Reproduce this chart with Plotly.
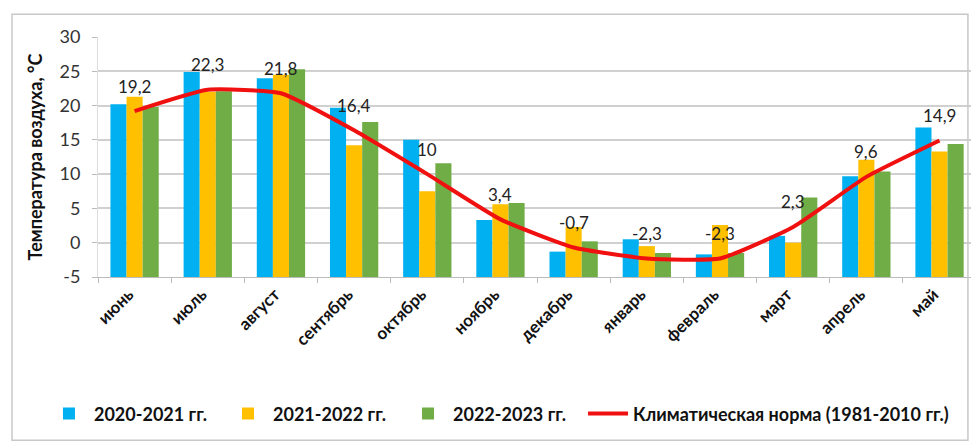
import plotly.graph_objects as go

months = ["июнь", "июль", "август", "сентябрь", "октябрь", "ноябрь", "декабрь",
          "январь", "февраль", "март", "апрель", "май"]
s2020 = [20.2, 24.9, 24.0, 19.7, 15.0, 3.3, -1.3, 0.5, -1.7, 1.0, 9.7, 16.8]
s2021 = [21.3, 22.0, 24.5, 14.2, 7.5, 5.6, 2.3, -0.5, 2.6, 0.0, 12.1, 13.3]
s2022 = [19.8, 22.1, 25.3, 17.6, 11.6, 5.8, 0.2, -1.5, -1.5, 6.6, 10.4, 14.4]
norm = [19.2, 22.3, 21.8, 16.4, 10, 3.4, -0.7, -2.3, -2.3, 2.3, 9.6, 14.9]
y_ticks = [-5, 0, 5, 10, 15, 20, 25, 30]

names = ["2020-2021 гг.", "2021-2022 гг.", "2022-2023 гг.",
         "Климатическая норма (1981-2010 гг.)"]
colors = ["#00B0F0", "#FFC000", "#70AD47", "#F01010"]

YMIN, YMAX = -5, 30
FONT = "Lato"
legend_ids = ["legend", "legend2", "legend3", "legend4"]
legend_x = [-0.0619, 0.1432, 0.3494, 0.5556]

fig = go.Figure()
for i, (vals, name, col) in enumerate(zip([s2020, s2021, s2022], names[:3], colors[:3])):
    fig.add_trace(go.Bar(
        x=months, y=[v - YMIN for v in vals], base=YMIN, name=name,
        marker=dict(color=col, line=dict(width=0)), legend=legend_ids[i],
        customdata=vals, hovertemplate="%{x}: %{customdata}<extra></extra>",
    ))

fig.add_trace(go.Scatter(
    x=months, y=norm, name=names[3], mode="lines", legend=legend_ids[3],
    line=dict(color=colors[3], width=4, shape="spline", smoothing=0.45),
))

for m, v in zip(months, norm):
    fig.add_annotation(x=m, y=v, text=f"{v:g}".replace(".", ","), showarrow=False,
                       yshift=25, font=dict(family=FONT, size=17, color="#222"))

# outer chart frame
fig.add_shape(type="rect", xref="paper", yref="paper",
              x0=-0.0985, x1=0.9965, y0=-0.68, y1=1.095,
              line=dict(color="#C8C8C8", width=1.5), fillcolor="rgba(0,0,0,0)")

legend_style = dict(orientation="h", xanchor="left", y=-0.57, yanchor="middle",
                    font=dict(family=FONT, size=18, color="#111", weight="bold"),
                    itemwidth=40, bgcolor="rgba(0,0,0,0)")

fig.update_layout(
    width=971, height=443,
    margin=dict(l=98, r=0, t=37, b=166),
    paper_bgcolor="white", plot_bgcolor="white",
    barmode="group", bargap=0.34, bargroupgap=0,
    font=dict(family=FONT, color="#222"),
    showlegend=True,
    xaxis=dict(
        range=[-0.5, 11.43], tickangle=-45, tickson="boundaries",
        ticks="outside", ticklen=5, tickcolor="#BBBBBB",
        ticklabelshift=-6,
        tickfont=dict(family=FONT, size=17, color="#111", weight="bold"),
        showgrid=False, showline=True, linecolor="#BBBBBB", linewidth=1,
    ),
    yaxis=dict(
        range=[YMIN, YMAX], tickmode="array", tickvals=y_ticks,
        ticktext=[str(t) for t in y_ticks],
        ticks="outside", ticklen=5, tickcolor="#BBBBBB",
        ticklabelstandoff=8,
        showgrid=True, gridcolor="#D0D0D0", gridwidth=1.5,
        zeroline=False, showline=True, linecolor="#DDDDDD",
        tickfont=dict(family=FONT, size=18, color="#333"),
        title=dict(text="Температура воздуха, °С", standoff=12,
                   font=dict(family=FONT, size=18, color="#111", weight="bold")),
    ),
)
for lid, lx in zip(legend_ids, legend_x):
    fig.update_layout({lid: dict(legend_style, x=lx)})

fig.write_html("out.html")
